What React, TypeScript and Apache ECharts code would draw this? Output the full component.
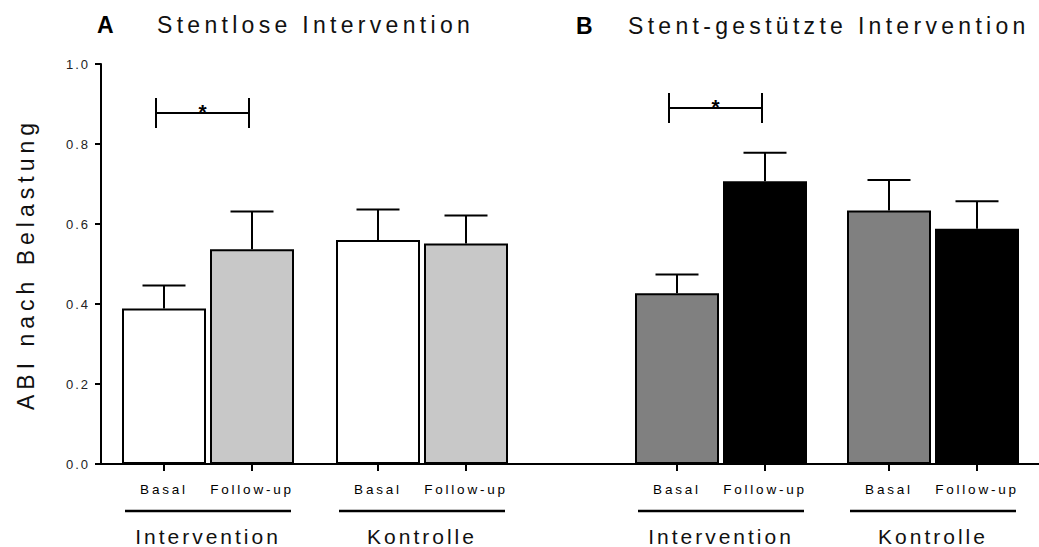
import React, { useEffect, useRef } from "react";
import * as echarts from "echarts";

// ---- data ----
const groups = ["Intervention", "Kontrolle"];
const timepoints = ["Basal", "Follow-up"];
const yTicks = { min: 0, max: 1, interval: 0.2 };

// Panel A: Stentlose Intervention
const stentloseBasal = [0.389, 0.56];
const stentloseBasalErr = [0.057, 0.076];
const stentloseFollowUp = [0.537, 0.551];
const stentloseFollowUpErr = [0.094, 0.07];

// Panel B: Stent-gestützte Intervention
const stentBasal = [0.427, 0.634];
const stentBasalErr = [0.047, 0.076];
const stentFollowUp = [0.707, 0.588];
const stentFollowUpErr = [0.071, 0.069];

// significance brackets (Basal vs Follow-up in Intervention group)
const bracketA = [0.8775];
const bracketB = [0.89];

const FONT = "'Liberation Sans', Arial, Helvetica, sans-serif";
const BAR_W = 84;
const BAR_GAP = 4;
const OFFSET = (BAR_W + BAR_GAP) / 2;
const CAP = 21.5;

const spacingMap: Record<string, number> = {
  "Stentlose Intervention": 4.3,
  "Stent-gestützte Intervention": 4.3,
  "ABI nach Belastung": 5,
  Intervention: 3,
  Kontrolle: 3,
  Basal: 2.8,
  "Follow-up": 2.8,
  "0.0": 2,
  "0.2": 2,
  "0.4": 2,
  "0.6": 2,
  "0.8": 2,
  "1.0": 2,
};

function errorSeries(gridIdx: number, means: number[], errs: number[], side: number, label: string) {
  return {
    type: "custom",
    xAxisIndex: gridIdx,
    yAxisIndex: gridIdx,
    z: 5,
    silent: true,
    data: means.map((m, i) => [i, m, errs[i]]),
    renderItem: (_p: any, api: any) => {
      const i = api.value(0);
      const m = api.value(1);
      const e = api.value(2);
      const base = api.coord([i, 0]);
      const top = api.coord([i, m]);
      const eTop = api.coord([i, m + e]);
      const x = base[0] + side * OFFSET;
      const ls = { stroke: "#000", lineWidth: 2 };
      return {
        type: "group",
        children: [
          { type: "line", shape: { x1: x, y1: top[1], x2: x, y2: eTop[1] }, style: ls },
          { type: "line", shape: { x1: x - CAP, y1: eTop[1], x2: x + CAP, y2: eTop[1] }, style: ls },
          { type: "line", shape: { x1: x, y1: base[1], x2: x, y2: base[1] + 7 }, style: ls },
          {
            type: "text",
            style: {
              text: label,
              x: x,
              y: base[1] + 25,
              align: "center",
              verticalAlign: "middle",
              fontSize: 13.5,
              fontFamily: FONT,
              fill: "#000",
            },
          },
        ],
      };
    },
  };
}

function groupLineSeries(gridIdx: number) {
  return {
    type: "custom",
    xAxisIndex: gridIdx,
    yAxisIndex: gridIdx,
    silent: true,
    data: groups.map((_g, i) => [i, 0]),
    renderItem: (_p: any, api: any) => {
      const c = api.coord([api.value(0), 0]);
      return {
        type: "line",
        shape: { x1: c[0] - 83, y1: c[1] + 47, x2: c[0] + 83, y2: c[1] + 47 },
        style: { stroke: "#000", lineWidth: 2.5 },
      };
    },
  };
}

function bracketSeries(gridIdx: number, ys: number[]) {
  return {
    type: "custom",
    xAxisIndex: gridIdx,
    yAxisIndex: gridIdx,
    silent: true,
    z: 6,
    data: ys.map((y, i) => [i, y]),
    renderItem: (_p: any, api: any) => {
      const c = api.coord([api.value(0), api.value(1)]);
      const l = c[0] - OFFSET - 8;
      const r = c[0] + OFFSET - 3;
      const y = c[1];
      const ls = { stroke: "#000", lineWidth: 2 };
      return {
        type: "group",
        children: [
          { type: "line", shape: { x1: l, y1: y, x2: r, y2: y }, style: ls },
          { type: "line", shape: { x1: l, y1: y - 15, x2: l, y2: y + 15 }, style: ls },
          { type: "line", shape: { x1: r, y1: y - 15, x2: r, y2: y + 15 }, style: ls },
          {
            type: "text",
            style: {
              text: "*",
              x: (l + r) / 2,
              y: y - 1.5,
              align: "center",
              verticalAlign: "middle",
              fontSize: 21,
              fontWeight: "bold",
              fontFamily: FONT,
              fill: "#000",
            },
          },
        ],
      };
    },
  };
}

export default function App() {
  const ref = useRef<HTMLDivElement>(null);

  useEffect(() => {
    if (!ref.current) return;
    document.body.style.margin = "0";
    const chart = echarts.init(ref.current, undefined, { renderer: "svg" });

    const yAxisBase = {
      type: "value",
      min: yTicks.min,
      max: yTicks.max,
      interval: yTicks.interval,
      splitLine: { show: false },
    };
    const xAxisBase = {
      type: "category",
      axisTick: { show: false },
      axisLine: { show: true, lineStyle: { color: "#000", width: 2 } },
      axisLabel: {
        margin: 72,
        verticalAlign: "middle",
        fontSize: 21,
        fontFamily: FONT,
        color: "#111",
        interval: 0,
      },
    };

    const option: any = {
      animation: false,
      backgroundColor: "#fff",
      grid: [
        { left: 101, top: 64, width: 642, height: 400 },
        { left: 615, top: 64, width: 429, height: 400 },
      ],
      xAxis: [
        { ...xAxisBase, gridIndex: 0, data: [...groups, ""] },
        { ...xAxisBase, gridIndex: 1, data: groups },
      ],
      yAxis: [
        {
          ...yAxisBase,
          gridIndex: 0,
          name: "ABI nach Belastung",
          nameLocation: "middle",
          nameGap: 64,
          nameTextStyle: { fontSize: 23, fontFamily: FONT, color: "#111" },
          axisLine: { show: true, lineStyle: { color: "#000", width: 2 } },
          axisTick: { show: true, length: 6, lineStyle: { color: "#000", width: 2 } },
          axisLabel: {
            margin: 11,
            fontSize: 13,
            fontFamily: FONT,
            color: "#222",
            formatter: (v: number) => v.toFixed(1),
          },
        },
        {
          ...yAxisBase,
          gridIndex: 1,
          show: false,
        },
      ],
      graphic: [
        {
          type: "text",
          x: 97,
          y: 25,
          style: { text: "A", fontSize: 23, fontWeight: "bold", fontFamily: FONT, fill: "#000", verticalAlign: "middle" },
        },
        {
          type: "text",
          x: 157,
          y: 25,
          style: { text: "Stentlose Intervention", fontSize: 23, fontFamily: FONT, fill: "#111", verticalAlign: "middle" },
        },
        {
          type: "text",
          x: 576,
          y: 26,
          style: { text: "B", fontSize: 23, fontWeight: "bold", fontFamily: FONT, fill: "#000", verticalAlign: "middle" },
        },
        {
          type: "text",
          x: 628,
          y: 26,
          style: {
            text: "Stent-gestützte Intervention",
            fontSize: 23,
            fontFamily: FONT,
            fill: "#111",
            verticalAlign: "middle",
          },
        },
      ],
      series: [
        {
          name: timepoints[0],
          type: "bar",
          xAxisIndex: 0,
          yAxisIndex: 0,
          data: stentloseBasal,
          barWidth: BAR_W,
          barGap: `${(BAR_GAP / BAR_W) * 100}%`,
          itemStyle: { color: "#ffffff", borderColor: "#000", borderWidth: 2 },
          silent: true,
        },
        {
          name: timepoints[1],
          type: "bar",
          xAxisIndex: 0,
          yAxisIndex: 0,
          data: stentloseFollowUp,
          barWidth: BAR_W,
          barGap: `${(BAR_GAP / BAR_W) * 100}%`,
          itemStyle: { color: "#c8c8c8", borderColor: "#000", borderWidth: 2 },
          silent: true,
        },
        {
          name: timepoints[0],
          type: "bar",
          xAxisIndex: 1,
          yAxisIndex: 1,
          data: stentBasal,
          barWidth: BAR_W,
          barGap: `${(BAR_GAP / BAR_W) * 100}%`,
          itemStyle: { color: "#808080", borderColor: "#000", borderWidth: 2 },
          silent: true,
        },
        {
          name: timepoints[1],
          type: "bar",
          xAxisIndex: 1,
          yAxisIndex: 1,
          data: stentFollowUp,
          barWidth: BAR_W,
          barGap: `${(BAR_GAP / BAR_W) * 100}%`,
          itemStyle: { color: "#000000", borderColor: "#000", borderWidth: 2 },
          silent: true,
        },
        errorSeries(0, stentloseBasal, stentloseBasalErr, -1, timepoints[0]),
        errorSeries(0, stentloseFollowUp, stentloseFollowUpErr, 1, timepoints[1]),
        errorSeries(1, stentBasal, stentBasalErr, -1, timepoints[0]),
        errorSeries(1, stentFollowUp, stentFollowUpErr, 1, timepoints[1]),
        groupLineSeries(0),
        groupLineSeries(1),
        bracketSeries(0, bracketA),
        bracketSeries(1, bracketB),
      ],
    };

    chart.setOption(option);

    const applySpacing = () => {
      if (!ref.current) return;
      ref.current.querySelectorAll("text").forEach((t) => {
        const s = spacingMap[(t.textContent || "").trim()];
        if (s) t.setAttribute("letter-spacing", `${s}px`);
      });
    };
    applySpacing();
    chart.on("finished", applySpacing);
    const timer = setTimeout(applySpacing, 50);

    return () => {
      clearTimeout(timer);
      chart.dispose();
    };
  }, []);

  return (
    <div
      ref={ref}
      style={{ position: "fixed", left: 0, top: 0, width: 1039, height: 547, background: "#fff" }}
    />
  );
}
